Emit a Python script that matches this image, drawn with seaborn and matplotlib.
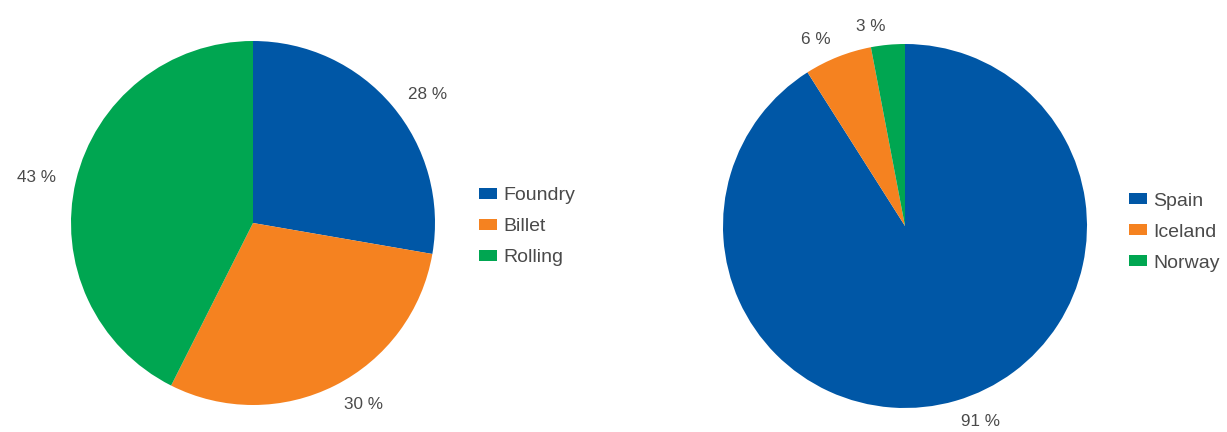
import matplotlib
matplotlib.use("Agg")
import matplotlib.pyplot as plt
import matplotlib.patches as mpatches
import seaborn as sns

# Data
sector_names = ["Foundry", "Billet", "Rolling"]
sector_values = [28, 30, 43]
country_names = ["Spain", "Iceland", "Norway"]
country_values = [91, 6, 3]

sns.set_theme(style="white")
plt.rcParams['font.family'] = ['Liberation Sans', 'DejaVu Sans']

colors = sns.color_palette(["#0057A6", "#F58220", "#00A651"])
text_color = "#4a4a4a"

W, H = 1227, 432
fig = plt.figure(figsize=(W / 100, H / 100), dpi=100)

R = 182  # pixel radius
lim = 1.05
half = R * lim


def make_ax(cx, cy_top):
    cy = H - cy_top
    return fig.add_axes([(cx - half) / W, (cy - half) / H, 2 * half / W, 2 * half / H])


def draw_pie(ax, values, names):
    labels = [f"{v} %" for v in values]
    wedges, texts = ax.pie(values, labels=labels, colors=colors, startangle=90,
                           counterclock=False, labeldistance=1.11,
                           textprops=dict(color=text_color, fontsize=12.3),
                           wedgeprops=dict(linewidth=0))
    for t in texts:
        t.set_va("center_baseline")
    ax.set_xlim(-lim, lim)
    ax.set_ylim(-lim, lim)
    ax.set_aspect("equal")
    ax.axis("off")
    return wedges


ax1 = make_ax(253, 223)
draw_pie(ax1, sector_values, sector_names)
ax2 = make_ax(905, 226)
draw_pie(ax2, country_values, country_names)


def legend(names, x, y):
    handles = [mpatches.Patch(facecolor=c, edgecolor="none", label=n) for c, n in zip(colors, names)]
    leg = fig.legend(handles=handles, loc="center left", bbox_to_anchor=(x / W, 1 - y / H),
                     frameon=False, fontsize=14, handlelength=0.93, handleheight=0.52,
                     handletextpad=0.33, labelspacing=0.72, borderaxespad=0, borderpad=0)
    for t in leg.get_texts():
        t.set_color(text_color)


legend(sector_names, 479, 227)
legend(country_names, 1129, 232)

fig.savefig("out.png", dpi=100)
